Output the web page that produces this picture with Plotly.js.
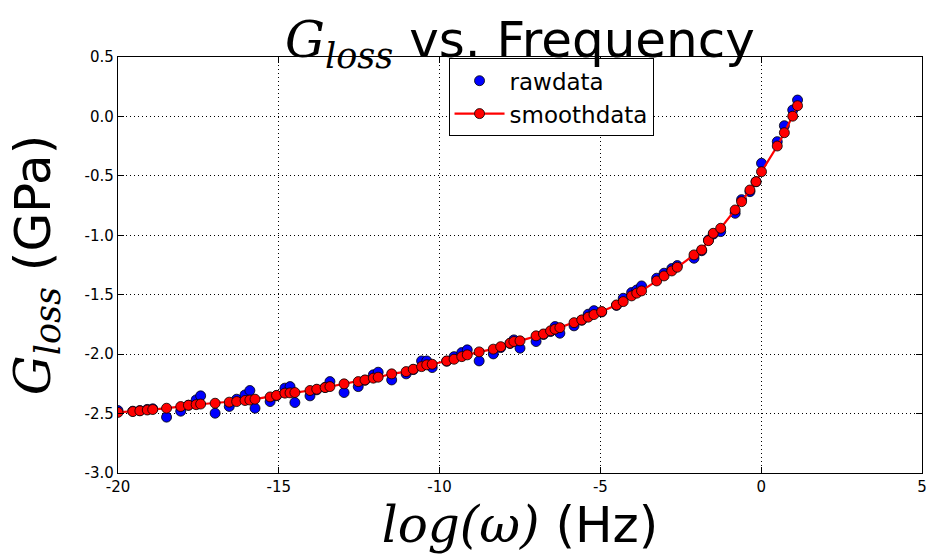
<!DOCTYPE html>
<html>
<head>
<meta charset="utf-8">
<script src="https://cdn.plot.ly/plotly-3.0.1.min.js"></script>
<style>html,body{margin:0;padding:0;background:#fff;}#chart{width:930px;height:555px;}</style>
</head>
<body>
<div id="chart"></div>
<script>
const logOmega = [-20.00,-19.54,-19.32,-19.09,-18.92,-18.49,-18.05,-17.81,-17.57,-17.43,-16.98,-16.54,-16.31,-16.05,-15.90,-15.74,-15.27,-15.07,-14.81,-14.65,-14.50,-14.03,-13.82,-13.56,-13.41,-12.97,-12.53,-12.32,-12.06,-11.91,-11.49,-11.04,-10.82,-10.56,-10.40,-10.23,-9.78,-9.55,-9.31,-9.14,-8.77,-8.33,-8.10,-7.81,-7.69,-7.50,-7.00,-6.77,-6.55,-6.41,-6.26,-5.82,-5.58,-5.38,-5.20,-4.96,-4.50,-4.29,-4.03,-3.87,-3.72,-3.25,-3.02,-2.78,-2.61,-2.09,-1.85,-1.64,-1.49,-1.26,-0.81,-0.61,-0.35,-0.16,0.01,0.50,0.72,0.98,1.13];
const rawData = [-2.475,-2.48,-2.475,-2.465,-2.46,-2.53,-2.48,-2.43,-2.385,-2.351,-2.497,-2.44,-2.379,-2.343,-2.306,-2.455,-2.399,-2.35,-2.286,-2.273,-2.407,-2.351,-2.30,-2.28,-2.231,-2.323,-2.273,-2.22,-2.174,-2.152,-2.217,-2.166,-2.13,-2.057,-2.057,-2.113,-2.06,-2.021,-1.987,-1.964,-2.057,-1.998,-1.945,-1.91,-1.88,-1.95,-1.894,-1.835,-1.81,-1.768,-1.824,-1.762,-1.715,-1.664,-1.634,-1.645,-1.59,-1.53,-1.482,-1.46,-1.426,-1.361,-1.319,-1.28,-1.255,-1.193,-1.13,-1.04,-0.99,-0.969,-0.815,-0.70,-0.633,-0.549,-0.394,-0.212,-0.078,0.054,0.138];
const smoothData = [-2.49,-2.483,-2.477,-2.47,-2.466,-2.455,-2.441,-2.43,-2.425,-2.42,-2.413,-2.404,-2.399,-2.39,-2.386,-2.379,-2.36,-2.347,-2.328,-2.326,-2.323,-2.306,-2.295,-2.281,-2.273,-2.25,-2.231,-2.217,-2.202,-2.194,-2.166,-2.147,-2.127,-2.105,-2.09,-2.085,-2.057,-2.043,-2.021,-2.006,-1.981,-1.958,-1.937,-1.908,-1.894,-1.888,-1.846,-1.83,-1.804,-1.79,-1.777,-1.735,-1.712,-1.689,-1.667,-1.642,-1.586,-1.558,-1.51,-1.487,-1.468,-1.384,-1.342,-1.30,-1.269,-1.165,-1.123,-1.045,-0.983,-0.941,-0.787,-0.717,-0.619,-0.549,-0.465,-0.249,-0.137,0.002,0.09];
const xTickVals = [-20,-15,-10,-5,0,5];
const xTickText = ['-20','-15','-10','-5','0','5'];
const yTickVals = [0.5,0.0,-0.5,-1.0,-1.5,-2.0,-2.5,-3.0];
const yTickText = ['0.5','0.0','-0.5','-1.0','-1.5','-2.0','-2.5','-3.0'];

const mathSpan = s => '<span style="font-family:\'DejaVu Serif\',serif;font-style:italic">' + s + '</span>';
const traces = [
  {x: logOmega, y: rawData, type:'scatter', mode:'markers', name:'rawdata',
   marker:{color:'#0000ff', size:10, line:{color:'#000', width:0.8}}},
  {x: logOmega, y: smoothData, type:'scatter', mode:'lines+markers', name:'smoothdata',
   line:{color:'#ff0000', width:2.2}, marker:{color:'#ff0000', size:10, line:{color:'#000', width:0.8}}}
];
const axisCommon = {showline:true, linecolor:'#000', linewidth:1.2, mirror:'ticks', ticks:'inside', ticklen:6, tickcolor:'#000',
  showgrid:true, gridcolor:'#000', griddash:'1px,3px', gridwidth:1, zeroline:false, tickfont:{family:'DejaVu Sans', size:15, color:'#000'}};
const layout = {
  width:930, height:555, paper_bgcolor:'#fff', plot_bgcolor:'#fff',
  margin:{l:118, r:8, t:57, b:82},
  font:{family:'DejaVu Sans', color:'#000'},
  showlegend:true,
  title:{text: mathSpan('G<sub>loss</sub>') + ' vs. Frequency', font:{family:'DejaVu Sans', size:50, color:'#000'},
    x:0.5, xref:'paper', xanchor:'center', y:1, yref:'paper', yanchor:'bottom', pad:{b:0}},
  xaxis: Object.assign({}, axisCommon, {range:[-20,5], tickvals:xTickVals, ticktext:xTickText,
    title:{text: mathSpan('log(ω)') + ' (Hz)', font:{family:'DejaVu Sans', size:50, color:'#000'}, standoff:4}}),
  yaxis: Object.assign({}, axisCommon, {range:[-3.0,0.5], tickvals:yTickVals, ticktext:yTickText,
    title:{text: mathSpan('G<sub>loss</sub>') + ' (GPa)', font:{family:'DejaVu Sans', size:50, color:'#000'}, standoff:18}}),
  legend:{x:0.5386, xanchor:'center', y:0.997, yanchor:'top', bgcolor:'#fff', bordercolor:'#000', borderwidth:1,
    font:{family:'DejaVu Sans', size:23, color:'#000'}, itemwidth:50}
};
Plotly.newPlot('chart', traces, layout, {displayModeBar:false, staticPlot:true});
</script>
</body>
</html>
